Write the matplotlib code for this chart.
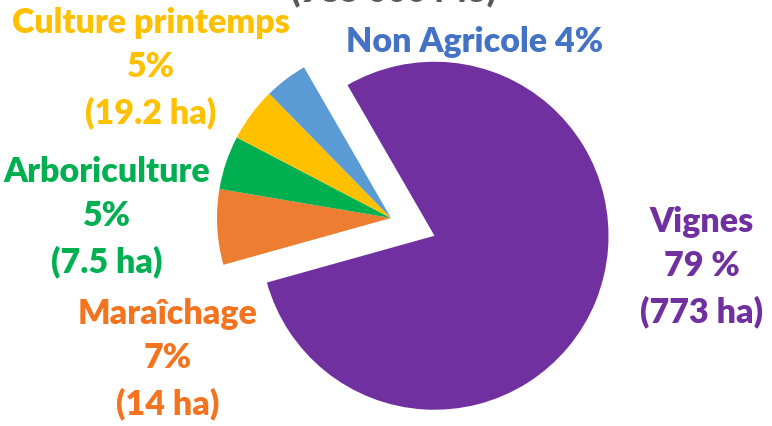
import matplotlib.pyplot as plt

# ── Data ──────────────────────────────────────────────────────────────────────
categories = ["Vignes", "Maraîchage", "Arboriculture", "Culture printemps", "Non Agricole"]
shares = [79, 7, 5, 5, 4]
surfaces = ["(773 ha)", "(14 ha)", "(7.5 ha)", "(19.2 ha)", None]
pct_labels = ["79 %", "7%", "5%", "5%", "4%"]
top_note = "(985 000 M3)"

wedge_colors = ["#7030A0", "#ED7D31", "#00B050", "#FFC000", "#5B9BD5"]
text_colors = ["#7030A0", "#F4731F", "#00B050", "#FFC000", "#4472C4"]

# ── Figure in pixel coordinates ───────────────────────────────────────────────
W, H = 772, 427
fig = plt.figure(figsize=(W / 100, H / 100), dpi=100)
ax = fig.add_axes([0, 0, 1, 1])

R = 174
cx, cy = 391, H - 219
explode = [0.27 * R, 0, 0, 0, 0]

ax.pie(shares, colors=wedge_colors, startangle=120, counterclock=False,
       center=(cx, cy), radius=R, explode=explode,
       wedgeprops=dict(linewidth=0))

ax.set_xlim(0, W)
ax.set_ylim(0, H)
ax.set_aspect("auto")
ax.axis("off")

font = dict(family=["Lato", "DejaVu Sans"], fontweight="heavy", fontsize=24.5)

# label positions (pixel, image coords: x, y of middle line)
label_pos = {
    "Vignes": (702, 267),
    "Maraîchage": (168, 359),
    "Arboriculture": (107, 217),
    "Culture printemps": (151, 68),
}
for name, pct, surf, col in zip(categories, pct_labels, surfaces, text_colors):
    if name in label_pos:
        x, y = label_pos[name]
        ax.text(x, H - y, f"{name}\n{pct}\n{surf}", color=col, ha="center",
                va="center", linespacing=1.48, **font)
    else:
        ax.text(475, H - 42, f"{name} {pct}", color=col, ha="center",
                va="center", **font)

# title line cut off at the top edge, as in the source image
ax.text(394, H - 1, top_note, color="#595959", ha="center", va="baseline", **font)

fig.savefig("out.png", dpi=100)
